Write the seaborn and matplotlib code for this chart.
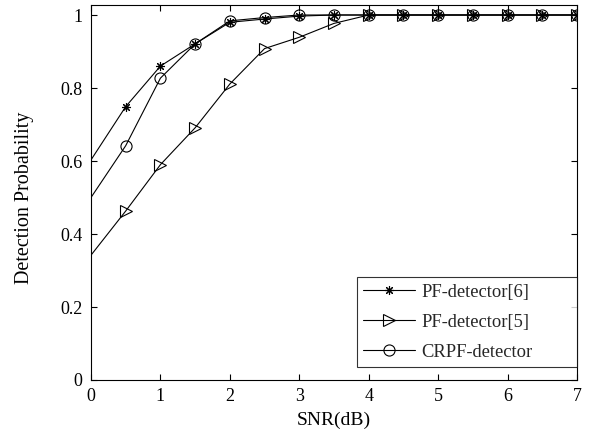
import numpy as np
import pandas as pd
import matplotlib
matplotlib.use("Agg")
import matplotlib.pyplot as plt
import seaborn as sns

snr = [0, 0.5, 1, 1.5, 2, 2.5, 3, 3.5, 4, 4.5, 5, 5.5, 6, 6.5, 7]
pf6 = [0.603, 0.749, 0.860, 0.921, 0.980, 0.989, 0.997, 1.0, 1.0, 1.0, 1.0, 1.0, 1.0, 1.0, 1.0]
pf5 = [0.342, 0.463, 0.590, 0.691, 0.811, 0.908, 0.939, 0.977, 1.0, 1.0, 1.0, 1.0, 1.0, 1.0, 1.0]
crpf = [0.500, 0.642, 0.827, 0.921, 0.984, 0.993, 1.0, 1.0, 1.0, 1.0, 1.0, 1.0, 1.0, 1.0, 1.0]
labels = ["PF-detector[6]", "PF-detector[5]", "CRPF-detector"]

sns.set_theme(style="white")
plt.rcParams['font.family'] = ['Liberation Serif', 'DejaVu Serif']

fig = plt.figure(figsize=(5.91, 4.34), dpi=100)
ax = fig.add_axes([91/591, 1 - 380/434, (577-91)/591, (380-5)/434])

series = [(pf6, labels[0], (8, 2, 0), 6.5), (pf5, labels[1], '>', 9), (crpf, labels[2], 'o', 8)]
for vals, lab, mk, ms in series:
    df = pd.DataFrame({"SNR": snr, "P": vals})
    sns.lineplot(data=df, x="SNR", y="P", ax=ax, color="black", linewidth=0.8,
                 marker=mk, markersize=ms, markerfacecolor="none",
                 markeredgecolor="black", markeredgewidth=0.8, label=lab,
                 markevery=list(range(1, len(snr))))

ax.set_xlim(0, 7)
ax.set_ylim(0, 1.0274)
ax.set_xticks(range(0, 8))
ax.set_yticks([0, 0.2, 0.4, 0.6, 0.8, 1])
ax.set_yticklabels(["0", "0.2", "0.4", "0.6", "0.8", "1"])
ax.tick_params(direction="in", top=True, right=True, bottom=True, left=True,
               length=4, width=0.8, labelsize=13, colors="black")
ax.tick_params(axis="x", pad=6)
ax.tick_params(axis="y", pad=6)
for s in ax.spines.values():
    s.set_color("black")
    s.set_linewidth(0.8)
ax.set_xlabel("SNR(dB)", fontsize=14, color="black")
ax.set_ylabel("Detection Probability", fontsize=14.5, color="black")
ax.yaxis.set_label_coords(-0.117, 0.5 / 1.0274)
ax.xaxis.set_label_coords(0.5, -0.085)

leg = ax.legend(loc="lower left",
                bbox_to_anchor=((357 - 91) / 486, 13 / 375, 220 / 486, 88 / 375),
                mode="expand", fontsize=13.3,
                frameon=True, fancybox=False, edgecolor="black", handlelength=2.8,
                borderpad=0.35, labelspacing=0.7, borderaxespad=0, handletextpad=0.35)
leg.get_frame().set_linewidth(0.8)

fig.savefig("out.png", dpi=100)
